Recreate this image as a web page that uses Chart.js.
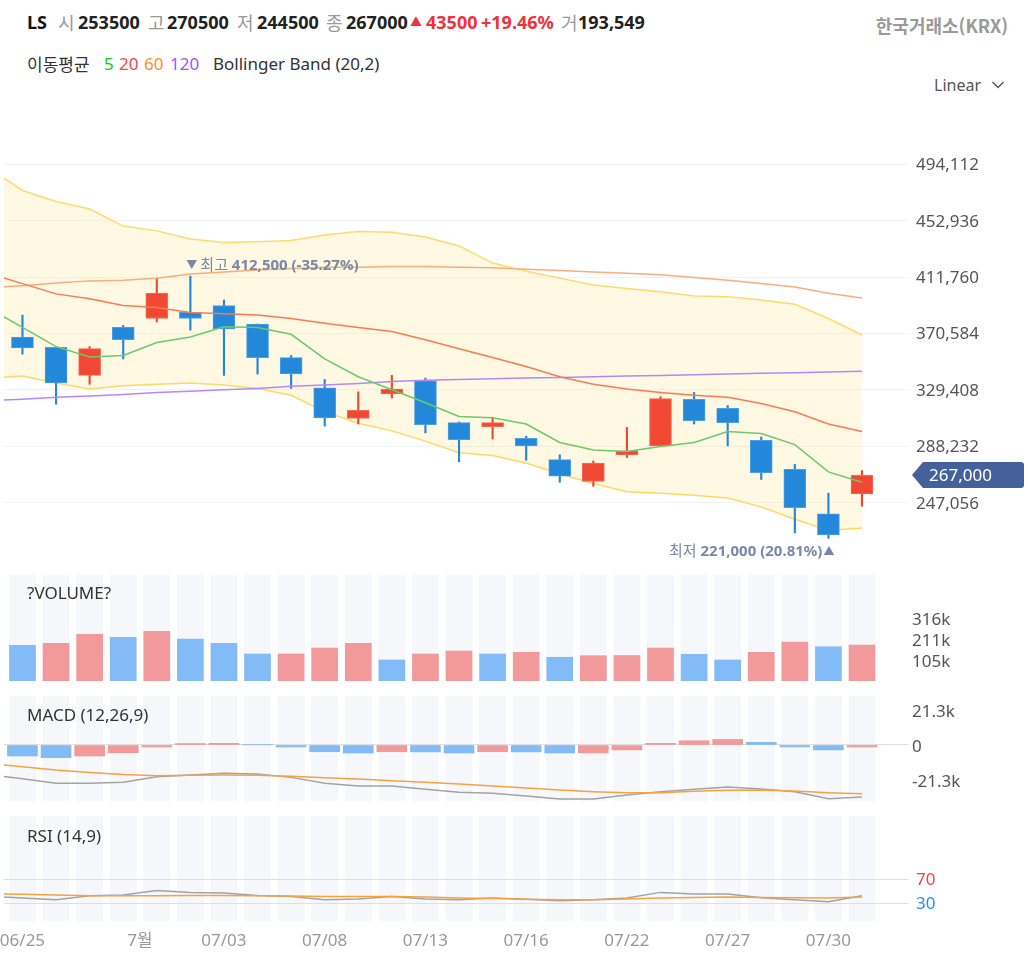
<!DOCTYPE html>
<html lang="ko">
<head>
<meta charset="utf-8">
<title>LS</title>
<script src="https://cdn.jsdelivr.net/npm/chart.js@4.4.1/dist/chart.umd.min.js"></script>
<style>
html,body{margin:0;padding:0;background:#fff;}
body{width:1028px;height:970px;position:relative;overflow:hidden;font-family:'Noto Sans','Noto Sans CJK KR',sans-serif;}
.t{position:absolute;white-space:nowrap;line-height:1;z-index:5;}
.h1{top:13px;font-size:18px;}
.k{font-family:'Noto Sans CJK KR',sans-serif;}
.g{color:#999;}
.b{font-weight:700;color:#222;}
.r{color:#f0323c;font-weight:700;}
.h2{top:55px;font-size:17px;color:#333;}
.pt{font-size:17px;color:#333;left:27px;}
canvas{position:absolute;left:0;}
</style>
</head>
<body>
<div class="t h1 b" style="left:27px;color:#111">LS</div>
<div class="t h1 g k" style="left:58px">시</div>
<div class="t h1 b" style="left:78px">253500</div>
<div class="t h1 g k" style="left:148px">고</div>
<div class="t h1 b" style="left:167px">270500</div>
<div class="t h1 g k" style="left:237px">저</div>
<div class="t h1 b" style="left:257px">244500</div>
<div class="t h1 g k" style="left:326px">종</div>
<div class="t h1 b" style="left:346px">267000</div>
<div class="t r" style="left:410px;top:17px;font-size:12px;font-weight:400">▲</div>
<div class="t h1 r" style="left:426px">43500</div>
<div class="t h1 r" style="left:481px">+19.46%</div>
<div class="t h1 g k" style="left:561px">거</div>
<div class="t h1 b" style="left:578px">193,549</div>

<div class="t h2 k" style="left:27px">이동평균</div>
<div class="t h2" style="left:104px;color:#1cc41c">5</div>
<div class="t h2" style="left:119px;color:#ff4242">20</div>
<div class="t h2" style="left:144px;color:#ff8c2e">60</div>
<div class="t h2" style="left:170px;color:#9d55ff">120</div>
<div class="t h2" style="left:213px">Bollinger Band (20,2)</div>

<div class="t k" style="right:20px;top:16px;font-size:18px;font-weight:700;color:#9a9a9a">한국거래소(KRX)</div>
<div class="t" style="left:934px;top:77px;font-size:16px;color:#555">Linear</div>
<svg style="position:absolute;left:990px;top:79px" width="16" height="12"><polyline points="2.5,3 8,8.5 13.5,3" fill="none" stroke="#555" stroke-width="1.4"/></svg>

<canvas id="cMain" width="1028" height="450" style="top:110px"></canvas>
<canvas id="cVol" width="1028" height="106" style="top:575px"></canvas>
<canvas id="cMacd" width="1028" height="105" style="top:696px"></canvas>
<canvas id="cRsi" width="1028" height="135" style="top:816px"></canvas>

<div class="t pt" style="top:584px">?VOLUME?</div>
<div class="t pt" style="top:706px">MACD (12,26,9)</div>
<div class="t pt" style="top:827px">RSI (14,9)</div>

<script>
// ---------- data ----------
const dates = ['06/25','06/26','06/27','06/28','07/01','07/02','07/03','07/04','07/05','07/08','07/09','07/10','07/13',
  '07/14','07/15','07/16','07/19','07/20','07/22','07/23','07/26','07/27','07/28','07/29','07/30','07/31'];
const openP  = [368000,360500,340000,375000,381500,386000,391000,377500,353000,331000,308500,326500,336000,
  305500,302500,294000,278500,262500,282000,288500,322500,316000,292500,271500,239000,253500];
const highP  = [384000,361000,361000,376500,411000,412500,395000,377500,354500,337000,328000,340000,338000,
  306000,309500,295500,282000,277500,302000,324500,327500,318000,295000,275000,254000,270500];
const lowP   = [355500,319000,333500,352000,379000,373000,340000,341000,330500,303000,304500,323500,298000,
  277000,293500,278000,262000,259000,280000,288000,304500,288500,264000,225000,221000,244500];
const closeP = [360000,334500,359500,366000,400000,381500,374000,353000,341000,309000,314500,330000,304000,
  293000,305500,288500,266500,276000,285000,323000,307000,305500,269000,243500,223500,267000];
const volume = [179000,189000,234000,219000,249000,211000,189000,135500,136000,165500,189000,105500,135500,
  150500,135500,144000,119000,127000,128000,165500,134000,105500,144000,195500,172000,180000];

// line series: the first value belongs to the session just before the visible window
const ma5   = [389000,375000,361000,353500,354500,364000,368000,375500,375000,370000,352000,339000,329500,320000,
  310000,309000,304500,291000,285500,284500,288000,291000,299000,297500,289500,269500,262000];
const ma20  = [414500,407000,399500,396000,391000,389500,386000,385000,384000,381500,378000,375000,372000,366000,
  359500,353000,346500,339000,333500,330000,327500,325500,324000,319500,313500,304500,299000];
const ma60  = [404000,405500,407500,409000,409500,411000,414000,415500,417000,418000,419000,419000,419500,419500,
  419000,418500,417500,416500,415500,414500,413500,411500,409500,407000,404500,400000,396500];
const ma120 = [321500,322500,324000,325000,326000,327500,328500,329500,330500,332000,333000,334000,335500,336500,
  337000,337500,338000,338500,339000,339500,340000,340500,341000,341500,342000,342500,343000];
const bbUpper = [491500,475000,467000,461500,449000,445500,439500,437000,437500,438500,442500,445000,444500,441000,
  434500,422000,416000,411000,406000,403500,401000,398000,397500,395000,392000,381500,369500];
const bbLower = [338000,339500,334500,330000,332500,333500,334500,333000,330500,325500,313500,305000,299500,292000,
  283500,281500,276000,268000,261000,255000,254000,252500,250500,244000,235000,227000,228500];

const macdHist = [-6700,-7700,-6700,-4700,-1200,900,1000,100,-1200,-4100,-4900,-4100,-4200,-4900,-4100,-4200,
  -4900,-4800,-3000,1000,2600,3400,1600,-1200,-3000,-1200];
const macdLine = [-18100,-20600,-23300,-23300,-22700,-19300,-18300,-17200,-17600,-19700,-23300,-25000,-25000,-27000,
  -28800,-29400,-31000,-32900,-32900,-30400,-28400,-27000,-25600,-26800,-28400,-32700,-31600];
const macdSignal = [-11300,-13200,-15200,-16700,-18000,-18700,-18400,-18300,-18400,-19000,-19900,-20700,-21700,-22700,
  -23700,-25000,-26200,-27400,-28400,-29000,-29000,-28200,-27600,-27400,-28000,-29000,-29600];
const rsi = [41.3,38.5,35.5,42.2,43.3,51,47.7,46.7,42.7,41,35.5,36.7,41,36.7,35.5,38.3,36.3,33.8,35.5,38.3,
  47.7,45,45,38.8,35.5,32.2,42.2];
const rsiSignal = [45.5,44.5,43.3,42.2,42.2,42.2,42.5,42.5,42.2,41.7,41,41,41,40,38.3,37.5,36.3,35.5,35.5,36.7,
  38.3,39.3,40,39.3,38.8,38.3,40];

const priceTicks  = [494112,452936,411760,370584,329408,288232,247056];
const volumeTicks = [105400,210800,316200];
const macdTicks   = [21300,0,-21300];
const rsiTicks    = [70,30];
const xLabelDates = ['06/25','07/03','07/08','07/13','07/16','07/22','07/27','07/30'];

// ---------- setup ----------
const N = dates.length;
const X_MIN = -0.55, X_MAX = 26.37;
const UP = 'rgb(240,72,50)', DOWN = 'rgb(35,135,218)';
const UP_B = '#f46c57', DOWN_B = '#4c9fe3';
const UP_L = '#f2999c', DOWN_L = '#83bbf6';
const COL_BG = '#f5f7fb';
const FONT = "'Noto Sans','Noto Sans CJK KR',sans-serif";
Chart.defaults.font.family = FONT;
Chart.defaults.animation = false;
Chart.defaults.plugins.legend.display = false;
Chart.defaults.plugins.tooltip.enabled = false;

const withPrior = arr => arr.map((v, k) => ({x: k - 1, y: v}));
const atIndex = arr => arr.map((v, i) => ({x: i, y: v}));
const fmt = v => v.toLocaleString('en-US');

function xAxis(show, extra) {
  return Object.assign({
    type: 'linear', min: X_MIN, max: X_MAX, offset: false, display: show,
    grid: {display: false, offset: false}, border: {display: false},
    afterFit(s) { s.paddingLeft = 0; s.paddingRight = 0; if (show) s.height = 30; }
  }, extra || {});
}
function yAxis(ticksArr, opts) {
  return Object.assign({
    type: 'linear', position: 'right', border: {display: false},
    afterBuildTicks(s) { s.ticks = ticksArr.map(v => ({value: v})); },
    afterFit(s) { s.width = 120; s.paddingTop = 0; s.paddingBottom = 0; }
  }, opts);
}
const line = (data, color, order, extra) => Object.assign({
  type: 'line', data, borderColor: color, borderWidth: 1.5, pointRadius: 0, tension: 0, fill: false, order
}, extra || {});

const columnsPlugin = {
  id: 'columns',
  beforeDraw(chart) {
    const {ctx, chartArea: a, scales: {x}} = chart;
    ctx.save();
    ctx.fillStyle = COL_BG;
    for (let i = 0; i < N; i++) {
      const px = x.getPixelForValue(i);
      ctx.fillRect(px - 13.5, a.top, 27, a.bottom - a.top);
    }
    ctx.restore();
  }
};

const extremesPlugin = {
  id: 'extremes',
  afterDatasetsDraw(chart) {
    const {ctx, scales: {x, y}} = chart;
    let hi = 0, lo = 0;
    highP.forEach((v, i) => { if (v > highP[hi]) hi = i; });
    lowP.forEach((v, i) => { if (v < lowP[lo]) lo = i; });
    const last = closeP[N - 1];
    const pct = v => { const p = (last / v - 1) * 100; return (p < 0 ? '-' : '') + Math.abs(p).toFixed(2) + '%'; };
    ctx.save();
    ctx.fillStyle = '#7a87a7';
    ctx.textBaseline = 'middle';
    ctx.textAlign = 'left';
    // highest
    let px = x.getPixelForValue(hi) - 4;
    let py = y.getPixelForValue(highP[hi]) - 10;
    ctx.font = `11px ${FONT}`;
    ctx.fillText('▼', px, py);
    px += ctx.measureText('▼').width + 3;
    ctx.font = `15px ${FONT}`;
    ctx.fillText('최고', px, py);
    px += ctx.measureText('최고 ').width;
    ctx.font = `bold 15px ${FONT}`;
    ctx.fillText(`${fmt(highP[hi])} (${pct(highP[hi])})`, px, py);
    // lowest
    px = x.getPixelForValue(lo) + 6;
    py = y.getPixelForValue(lowP[lo]) + 13;
    ctx.textAlign = 'right';
    ctx.font = `11px ${FONT}`;
    ctx.fillText('▲', px, py);
    px -= ctx.measureText('▲').width + 1;
    ctx.font = `bold 15px ${FONT}`;
    const lowTxt = `${fmt(lowP[lo])} (${pct(lowP[lo])})`;
    ctx.fillText(lowTxt, px, py);
    px -= ctx.measureText(lowTxt).width;
    ctx.font = `15px ${FONT}`;
    ctx.fillText('최저 ', px, py);
    ctx.restore();
  }
};

const priceTagPlugin = {
  id: 'priceTag',
  afterDraw(chart) {
    const {ctx, scales: {y}} = chart;
    const last = closeP[N - 1];
    const py = Math.round(y.getPixelForValue(last));
    const x0 = 912, x1 = 923, x2 = 1024, h = 13;
    ctx.save();
    ctx.fillStyle = '#45619b';
    ctx.beginPath();
    ctx.moveTo(x0, py);
    ctx.lineTo(x1, py - h);
    ctx.lineTo(x2 - 3, py - h);
    ctx.quadraticCurveTo(x2, py - h, x2, py - h + 3);
    ctx.lineTo(x2, py + h - 3);
    ctx.quadraticCurveTo(x2, py + h, x2 - 3, py + h);
    ctx.lineTo(x1, py + h);
    ctx.closePath();
    ctx.fill();
    ctx.fillStyle = '#fff';
    ctx.font = `17px ${FONT}`;
    ctx.textBaseline = 'middle';
    ctx.textAlign = 'left';
    ctx.fillText(fmt(last), 929, py + 1);
    ctx.restore();
  }
};

// ---------- main price chart ----------
const candleColor = closeP.map((c, i) => c >= openP[i] ? UP : DOWN);
const candleBorder = closeP.map((c, i) => c >= openP[i] ? UP_B : DOWN_B);
new Chart(document.getElementById('cMain'), {
  type: 'bar',
  data: {datasets: [
    line(withPrior(bbUpper), '#ffd964', 10),
    line(withPrior(bbLower), '#ffd964', 9, {fill: '-1', backgroundColor: 'rgba(255,230,150,0.28)'}),
    {type: 'bar', data: dates.map((d, i) => ({x: i, y: [lowP[i], highP[i]]})), backgroundColor: candleColor,
      barThickness: 1.5, grouped: false, order: 8},
    {type: 'bar', data: dates.map((d, i) => ({x: i, y: [openP[i], closeP[i]]})), backgroundColor: candleColor,
      borderColor: candleBorder, borderWidth: 1, borderSkipped: false, barThickness: 22, grouped: false, order: 7},
    line(withPrior(ma120), '#b687f8', 4),
    line(withPrior(ma60), '#f8ae7c', 3),
    line(withPrior(ma20), '#fa7a55', 2),
    line(withPrior(ma5), '#6ccb68', 1)
  ]},
  options: {
    responsive: false,
    layout: {padding: {left: 4, right: 0, top: 0, bottom: 0}},
    scales: {
      x: xAxis(false),
      y: yAxis(priceTicks, {
        min: 205211, max: 533756,
        grid: {color: '#f0f2f5', drawTicks: false},
        ticks: {padding: 8, labelOffset: 1, color: '#555', font: {size: 17}, autoSkip: false, callback: v => fmt(v)}
      })
    }
  },
  plugins: [extremesPlugin, priceTagPlugin]
});

// ---------- volume ----------
new Chart(document.getElementById('cVol'), {
  type: 'bar',
  data: {datasets: [{
    type: 'bar', data: atIndex(volume),
    backgroundColor: volume.map((v, i) => (i > 0 && v >= volume[i - 1]) ? UP_L : DOWN_L),
    barThickness: 26, grouped: false
  }]},
  options: {
    responsive: false,
    layout: {padding: {left: 4, right: 0, top: 0, bottom: 0}},
    scales: {
      x: xAxis(false),
      y: yAxis(volumeTicks, {
        min: 0, max: 532000,
        grid: {display: false, drawTicks: false},
        ticks: {padding: 4, labelOffset: 2, color: '#555', font: {size: 17}, autoSkip: false,
          callback: v => Math.round(v / 1000) + 'k'}
      })
    }
  },
  plugins: [columnsPlugin]
});

// ---------- MACD ----------
new Chart(document.getElementById('cMacd'), {
  type: 'bar',
  data: {datasets: [
    {type: 'bar', data: atIndex(macdHist),
      backgroundColor: macdHist.map((v, i) => (i > 0 && v > macdHist[i - 1]) ? UP_L : DOWN_L),
      barThickness: 30, grouped: false, order: 3},
    line(withPrior(macdLine), '#a3a3a3', 2),
    line(withPrior(macdSignal), '#f7a23e', 1)
  ]},
  options: {
    responsive: false,
    layout: {padding: {left: 4, right: 0, top: 0, bottom: 0}},
    scales: {
      x: xAxis(false),
      y: yAxis(macdTicks, {
        min: -34082, max: 29821,
        grid: {drawTicks: false, color: c => (c.tick && c.tick.value === 0) ? '#dedede' : 'rgba(0,0,0,0)'},
        ticks: {padding: 4, labelOffset: 2, color: '#555', font: {size: 17}, autoSkip: false,
          callback: v => v === 0 ? '0' : (v / 1000).toFixed(1) + 'k'}
      })
    }
  },
  plugins: [columnsPlugin]
});

// ---------- RSI ----------
const xTicks = [];
dates.forEach((d, i) => {
  if (i > 0 && d.slice(0, 2) !== dates[i - 1].slice(0, 2)) xTicks.push({value: i - 0.5, label: parseInt(d.slice(0, 2), 10) + '월'});
  if (xLabelDates.includes(d)) xTicks.push({value: i, label: d});
});
xTicks.sort((a, b) => a.value - b.value);

new Chart(document.getElementById('cRsi'), {
  type: 'line',
  data: {datasets: [
    line(withPrior(rsi), '#a3a3a3', 2),
    line(withPrior(rsiSignal), '#f7a23e', 1)
  ]},
  options: {
    responsive: false,
    layout: {padding: {left: 4, right: 0, top: 0, bottom: 0}},
    scales: {
      x: xAxis(true, {
        afterBuildTicks(s) { s.ticks = xTicks.map(t => ({value: t.value})); },
        ticks: {autoSkip: false, maxRotation: 0, padding: 2, color: '#999', font: {size: 17},
          callback: (v, idx) => xTicks[idx] ? xTicks[idx].label : ''}
      }),
      y: yAxis(rsiTicks, {
        min: 0, max: 175,
        grid: {drawTicks: false, color: c => !c.tick ? 'rgba(0,0,0,0)' : (c.tick.value === 70 ? '#fbd3d3' : '#cfe1fb')},
        ticks: {padding: 8, labelOffset: 1, font: {size: 17}, autoSkip: false,
          color: c => (c.tick && c.tick.value === 70) ? '#f04646' : '#2f8cf0'}
      })
    }
  },
  plugins: [columnsPlugin]
});
</script>
</body>
</html>
